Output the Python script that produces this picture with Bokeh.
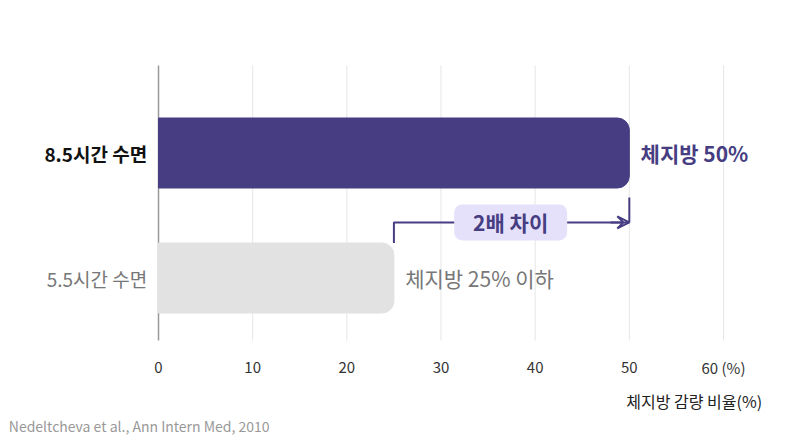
from bokeh.plotting import figure
from bokeh.models import Arrow, VeeHead
from bokeh.core.properties import value
from bokeh.embed import file_html
from bokeh.resources import INLINE

categories = ["8.5시간 수면", "5.5시간 수면"]
values = [50, 25]
value_labels = ["체지방 50%", "체지방 25% 이하"]
ticks = [0, 10, 20, 30, 40, 50, 60]
tick_labels = ["0", "10", "20", "30", "40", "50", "60 (%)"]
ypos = [3, 1]
PURPLE = "#463D82"
FONT = value("Noto Sans CJK KR")

p = figure(width=792, height=439, x_range=(-16.78, 67.33), y_range=(-1.584, 5.44),
           output_backend="svg", toolbar_location=None,
           min_border=0)
p.outline_line_color = None
p.axis.visible = False
p.grid.visible = False

p.segment(x0=ticks[1:], x1=ticks[1:], y0=[0] * 6, y1=[4.4] * 6, line_color="#e6e6e6", line_width=1)
p.segment(x0=[0], x1=[0], y0=[0], y1=[4.4], line_color="#999999", line_width=1.5)
p.text(x=ticks, y=[-0.43] * 7, text=tick_labels, text_align="center", text_baseline="middle",
       text_font=FONT, text_font_size="15px", text_color="#333333")

colors = [PURPLE, "#E2E2E2"]
for y, v, c in zip(ypos, values, colors):
    p.hbar(y=[y], right=[v], left=[0], height=1.12, color=c, border_radius=(0, 12, 12, 0))

p.text(x=[-1.2], y=[3], text=[categories[0]], text_align="right", text_baseline="middle",
       text_font=FONT, text_font_size="19px", text_font_style="bold", text_color="#111111")
p.text(x=[-1.2], y=[1], text=[categories[1]], text_align="right", text_baseline="middle",
       text_font=FONT, text_font_size="19px", text_color="#777777")
p.text(x=[values[0] + 1.2], y=[3], text=[value_labels[0]], text_baseline="middle",
       text_font=FONT, text_font_size="21px", text_font_style="bold", text_color=PURPLE)
p.text(x=[values[1] + 1.2], y=[1], text=[value_labels[1]], text_baseline="middle",
       text_font=FONT, text_font_size="21px", text_color="#777777")

yb = 1.89
p.line(x=[values[1], values[1], values[0]], y=[1.56, yb, yb], line_color=PURPLE, line_width=2)
p.line(x=[values[0], values[0]], y=[yb, 2.29], line_color=PURPLE, line_width=2)
p.add_layout(Arrow(x_start=values[0] - 2, y_start=yb, x_end=values[0], y_end=yb,
                   line_color=PURPLE, line_width=2,
                   end=VeeHead(size=12, line_color=PURPLE, line_width=2, fill_alpha=0)))
p.rect(x=[37.4], y=[yb], width=113, height=36, width_units="screen", height_units="screen",
       fill_color="#E6E1FA", line_color=None, border_radius=8)
p.text(x=[37.4], y=[yb], text=["2배 차이"], text_align="center", text_baseline="middle",
       text_font=FONT, text_font_size="21px", text_font_style="bold", text_color=PURPLE)

p.text(x=[64.1], y=[-0.96], text=["체지방 감량 비율(%)"], text_align="right", text_baseline="middle",
       text_font=FONT, text_font_size="16px", text_color="#222222")
p.text(x=[-15.9], y=[-1.36], text=["Nedeltcheva et al., Ann Intern Med, 2010"], text_baseline="middle",
       text_font=FONT, text_font_size="14px", text_color="#999999")

open("out.html", "w").write(file_html(p, INLINE))
